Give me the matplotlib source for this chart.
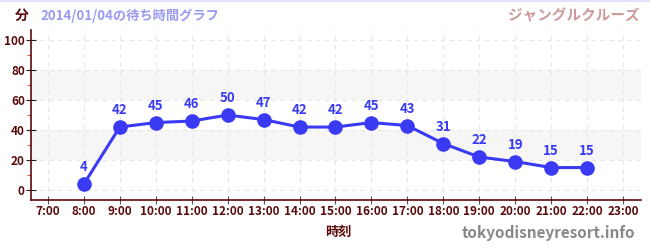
import matplotlib
matplotlib.use("Agg")
import matplotlib.pyplot as plt
from matplotlib.ticker import MultipleLocator, FixedLocator
from matplotlib.lines import Line2D

hours = list(range(7, 24))
tick_labels = [f"{h}:00" for h in hours]
data_hours = [8, 9, 10, 11, 12, 13, 14, 15, 16, 17, 18, 19, 20, 21, 22]
wait_times = [4, 42, 45, 46, 50, 47, 42, 42, 45, 43, 31, 22, 19, 15, 15]

plt.rcParams['font.family'] = ['Noto Sans CJK JP', 'DejaVu Sans']

dark = '#5a0a0a'
blue = '#3a3af5'

fig = plt.figure(figsize=(6.5, 2.5), dpi=100)
ax = fig.add_axes([31/650, 1-199.5/250, (641-31)/650, (199.5-30)/250])
ax.set_xlim(6.53, 23.5)
ax.set_ylim(-6.3, 106.7)

for lo, hi in [(20, 40), (60, 80)]:
    ax.axhspan(lo, hi, color='#f6f6f6', zorder=0, lw=0)

ax.set_xticks(hours)
ax.set_xticklabels(tick_labels)
ax.set_yticks([0, 20, 40, 60, 80, 100])
ax.yaxis.set_minor_locator(FixedLocator([10, 30, 50, 70, 90]))
ax.grid(True, which='major', color='#e6e6e6', linestyle=(0, (4, 4)), lw=0.8)

for s in ['top', 'right']:
    ax.spines[s].set_visible(False)
ax.spines['left'].set_color(dark)
ax.spines['bottom'].set_color(dark)
ax.spines['left'].set_linewidth(1.2)
ax.spines['bottom'].set_linewidth(1.2)

ax.tick_params(axis='x', direction='inout', length=6, color='#555555', labelcolor=dark, labelsize=8.5, pad=1)
ax.tick_params(axis='y', which='major', direction='inout', length=7, color='#222222', labelcolor=dark, labelsize=8.5, pad=1)
ax.tick_params(axis='y', which='minor', direction='out', length=3, color='#ee2222')
for lab in ax.get_xticklabels() + ax.get_yticklabels():
    lab.set_fontweight('bold')

ax.plot(data_hours, wait_times, color=blue, lw=2.2, marker='o', markersize=9.5, zorder=3, clip_on=False)
for x, y in zip(data_hours, wait_times):
    ax.annotate(str(y), (x, y), xytext=(0, 7), textcoords='offset points', ha='center', va='bottom',
                color=blue, fontsize=9.5, fontweight='bold')

fig.text(22/650, 1-16/250, '分', color=dark, fontsize=10, fontweight='bold', ha='center', va='center')
fig.text(40/650, 1-16/250, '2014/01/04の待ち時間グラフ', color='#9a9af0', fontsize=9.5, fontweight='bold', ha='left', va='center')
fig.text(640/650, 1-15/250, 'ジャングルクルーズ', color='#cc9a9a', fontsize=10.5, fontweight='bold', ha='right', va='center')
fig.text(338/650, 1-232/250, '時刻', color=dark, fontsize=9.5, fontweight='bold', ha='center', va='center')
fig.text(635/650, 1-233/250, 'tokyodisneyresort.info', color='#888888', fontsize=11, fontweight='bold', ha='right', va='center')

fig.add_artist(Line2D([0, 1], [0.998, 0.998], color='#e0e0f8', lw=1.5, transform=fig.transFigure))

fig.savefig('out.png', dpi=100)
